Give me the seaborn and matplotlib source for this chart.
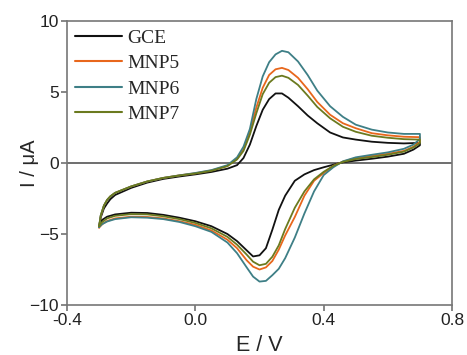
import pandas as pd
import matplotlib
matplotlib.use("Agg")
from matplotlib import pyplot as plt
import seaborn as sns

# potential (V) for forward and reverse scan
e_fwd = [-0.30, -0.295, -0.285, -0.275, -0.265, -0.25, -0.20, -0.15, -0.10, -0.05,
         0.00, 0.05, 0.10, 0.13, 0.15, 0.17, 0.19, 0.21, 0.23, 0.25,
         0.27, 0.29, 0.32, 0.35, 0.38, 0.42, 0.46, 0.50, 0.55, 0.60,
         0.65, 0.70]
e_rev = [0.70, 0.68, 0.65, 0.60, 0.55, 0.50, 0.46, 0.43, 0.40, 0.37,
         0.34, 0.31, 0.28, 0.26, 0.24, 0.22, 0.20, 0.18, 0.16, 0.13,
         0.10, 0.05, 0.00, -0.05, -0.10, -0.15, -0.20, -0.25, -0.275, -0.29,
         -0.30]

# current (uA)
gce_fwd = [-4.45, -3.85, -3.2, -2.85, -2.55, -2.25, -1.75, -1.38, -1.12, -0.95,
           -0.8, -0.63, -0.4, -0.15, 0.35, 1.3, 2.6, 3.75, 4.5, 4.9,
           4.9, 4.6, 4.0, 3.35, 2.8, 2.15, 1.8, 1.65, 1.5, 1.42,
           1.38, 1.42]
gce_rev = [1.25, 0.95, 0.65, 0.45, 0.3, 0.17, 0.05, -0.12, -0.3, -0.5,
           -0.8, -1.25, -2.3, -3.3, -4.7, -6.0, -6.5, -6.58, -6.15, -5.5,
           -5.0, -4.45, -4.1, -3.85, -3.65, -3.52, -3.5, -3.62, -3.78, -4.0,
           -4.45]

mnp5_fwd = [-4.55, -3.75, -3.0, -2.6, -2.35, -2.1, -1.65, -1.3, -1.05, -0.87,
            -0.72, -0.52, -0.2, 0.3, 0.95, 2.2, 3.9, 5.3, 6.2, 6.6,
            6.7, 6.55, 6.0, 5.2, 4.3, 3.4, 2.8, 2.45, 2.1, 1.95,
            1.85, 1.82]
mnp5_rev = [1.5, 1.15, 0.85, 0.65, 0.5, 0.35, 0.1, -0.2, -0.7, -1.25,
            -2.3, -3.8, -5.1, -6.1, -6.9, -7.35, -7.5, -7.3, -6.85, -6.0,
            -5.4, -4.75, -4.35, -4.1, -3.9, -3.8, -3.78, -3.9, -4.08, -4.3,
            -4.55]

mnp6_fwd = [-4.5, -3.7, -3.0, -2.6, -2.35, -2.1, -1.65, -1.3, -1.05, -0.87,
            -0.7, -0.5, -0.15, 0.4, 1.15, 2.4, 4.5, 6.1, 7.1, 7.65,
            7.9, 7.8, 7.15, 6.2, 5.1, 4.0, 3.25, 2.7, 2.35, 2.15,
            2.05, 2.05]
mnp6_rev = [1.7, 1.3, 1.0, 0.75, 0.58, 0.4, 0.12, -0.3, -0.85, -2.0,
            -3.55, -5.25, -6.7, -7.45, -7.9, -8.3, -8.35, -8.0, -7.35, -6.35,
            -5.6, -4.85, -4.45, -4.15, -3.95, -3.85, -3.82, -3.95, -4.12, -4.3,
            -4.5]

mnp7_fwd = [-4.45, -3.7, -3.0, -2.6, -2.35, -2.1, -1.65, -1.3, -1.05, -0.88,
            -0.74, -0.55, -0.22, 0.25, 0.85, 2.0, 3.5, 4.85, 5.65, 6.05,
            6.15, 6.0, 5.5, 4.75, 3.95, 3.15, 2.55, 2.2, 1.92, 1.78,
            1.68, 1.65]
mnp7_rev = [1.4, 1.1, 0.8, 0.58, 0.42, 0.28, 0.08, -0.2, -0.62, -1.15,
            -2.0, -3.15, -4.65, -5.8, -6.6, -7.1, -7.2, -6.95, -6.45, -5.75,
            -5.2, -4.6, -4.22, -3.95, -3.75, -3.62, -3.6, -3.72, -3.9, -4.15,
            -4.45]

labels = ["GCE", "MNP5", "MNP6", "MNP7"]
colors = ["#111111", "#e8671c", "#3e7f86", "#6b7a1f"]

frames = []
for name, fwd, rev in zip(labels,
                          [gce_fwd, mnp5_fwd, mnp6_fwd, mnp7_fwd],
                          [gce_rev, mnp5_rev, mnp6_rev, mnp7_rev]):
    frames.append(pd.DataFrame({"E": e_fwd + e_rev, "I": fwd + rev,
                                "electrode": name}))
df = pd.concat(frames, ignore_index=True)

sns.set_style("ticks")
plt.rcParams["font.family"] = ["Liberation Sans", "DejaVu Sans"]

fig = plt.figure(figsize=(4.67, 3.55), dpi=100)
ax = fig.add_axes([0.1435, 0.1408, 0.8244, 0.8000])

ax.axhline(0, color="#555555", lw=1.2, zorder=1)
sns.lineplot(data=df, x="E", y="I", hue="electrode", palette=colors,
             sort=False, estimator=None, lw=1.3, ax=ax, zorder=3)

ax.set_xlim(-0.4, 0.8)
ax.set_ylim(-10, 10)
ax.set_xticks([-0.4, 0.0, 0.4, 0.8])
ax.set_xticklabels(["-0.4", "0.0", "0.4", "0.8"])
ax.set_yticks([-10, -5, 0, 5, 10])
ax.set_xlabel("E / V", fontsize=15.5, labelpad=5)
ax.set_ylabel("I / \u03bcA", fontsize=14.5)
ax.yaxis.set_label_coords(-0.073, 0.5)
ax.tick_params(labelsize=12.5, length=4, width=1.1, color="#666666",
               labelcolor="#222222", pad=2)
for s in ax.spines.values():
    s.set_color("#777777")
    s.set_linewidth(1.2)

leg = ax.legend(loc="upper left", frameon=False, handlelength=2.4,
                handletextpad=0.28, labelspacing=0.4, borderpad=0,
                borderaxespad=0.42,
                prop={"family": "Liberation Serif", "size": 14})
for line in leg.get_lines():
    line.set_linewidth(1.5)

fig.savefig("out.png", dpi=100)
